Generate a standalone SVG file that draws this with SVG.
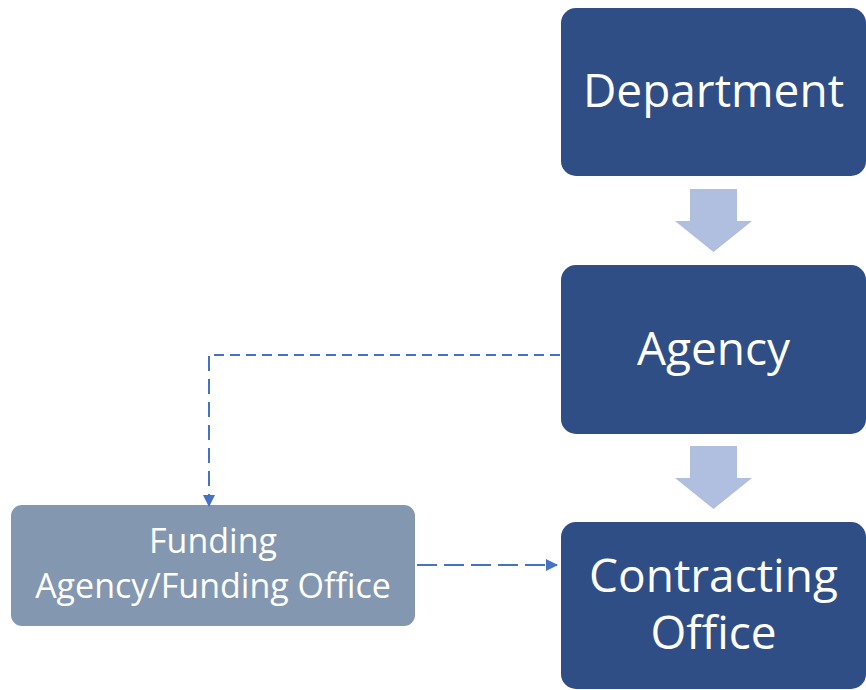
<svg xmlns="http://www.w3.org/2000/svg" width="866" height="690" viewBox="0 0 866 690">
<style>
.box{fill:#2F4E85}
.fund{fill:#8497B0}
.t{font-family:"Open Sans","Liberation Sans",sans-serif;fill:#FFFFFF;text-anchor:middle}
.big{font-size:46px}
.small{font-size:34px}
.blk{fill:#B0BEE0}
.dash{fill:none;stroke:#4472C4;stroke-width:2}
</style>
<defs>
<marker id="ah" markerWidth="12" markerHeight="12" refX="11" refY="6" orient="auto" markerUnits="userSpaceOnUse" viewBox="0 0 12 12">
<path d="M0,0 L12,6 L0,12 Z" fill="#4472C4"/>
</marker>
</defs>
<rect width="866" height="690" fill="#FFFFFF"/>
<g id="department">
<rect class="box" x="561" y="8" width="305" height="168" rx="15"/>
<text class="t big" x="713.5" y="107">Department</text>
</g>
<g id="agency">
<rect class="box" x="561" y="265" width="305" height="169" rx="15"/>
<text class="t big" x="713.5" y="365">Agency</text>
</g>
<g id="contracting-office">
<rect class="box" x="561" y="522" width="305" height="167" rx="15"/>
<text class="t big" x="713.5" y="592">Contracting</text>
<text class="t big" x="713.5" y="649">Office</text>
</g>
<g id="funding-office">
<rect class="fund" x="11" y="505" width="404" height="121" rx="11"/>
<text class="t small" x="213" y="553">Funding</text>
<text class="t small" x="213" y="598">Agency/Funding Office</text>
</g>
<g id="connectors">
<path class="blk" d="M690,189 H737 V221 H752 L713.5,252 L675,221 H690 Z"/>
<path class="blk" d="M690,446 H737 V478 H752 L713.5,509 L675,478 H690 Z"/>
<path class="dash" d="M560,355 H209" stroke-width="1.5" stroke-dasharray="10,6"/>
<path class="dash" d="M209,356 V506" stroke-dasharray="15,8" marker-end="url(#ah)"/>
<path class="dash" d="M417,565 H557" stroke-dasharray="20,7" marker-end="url(#ah)"/>
</g>
</svg>
